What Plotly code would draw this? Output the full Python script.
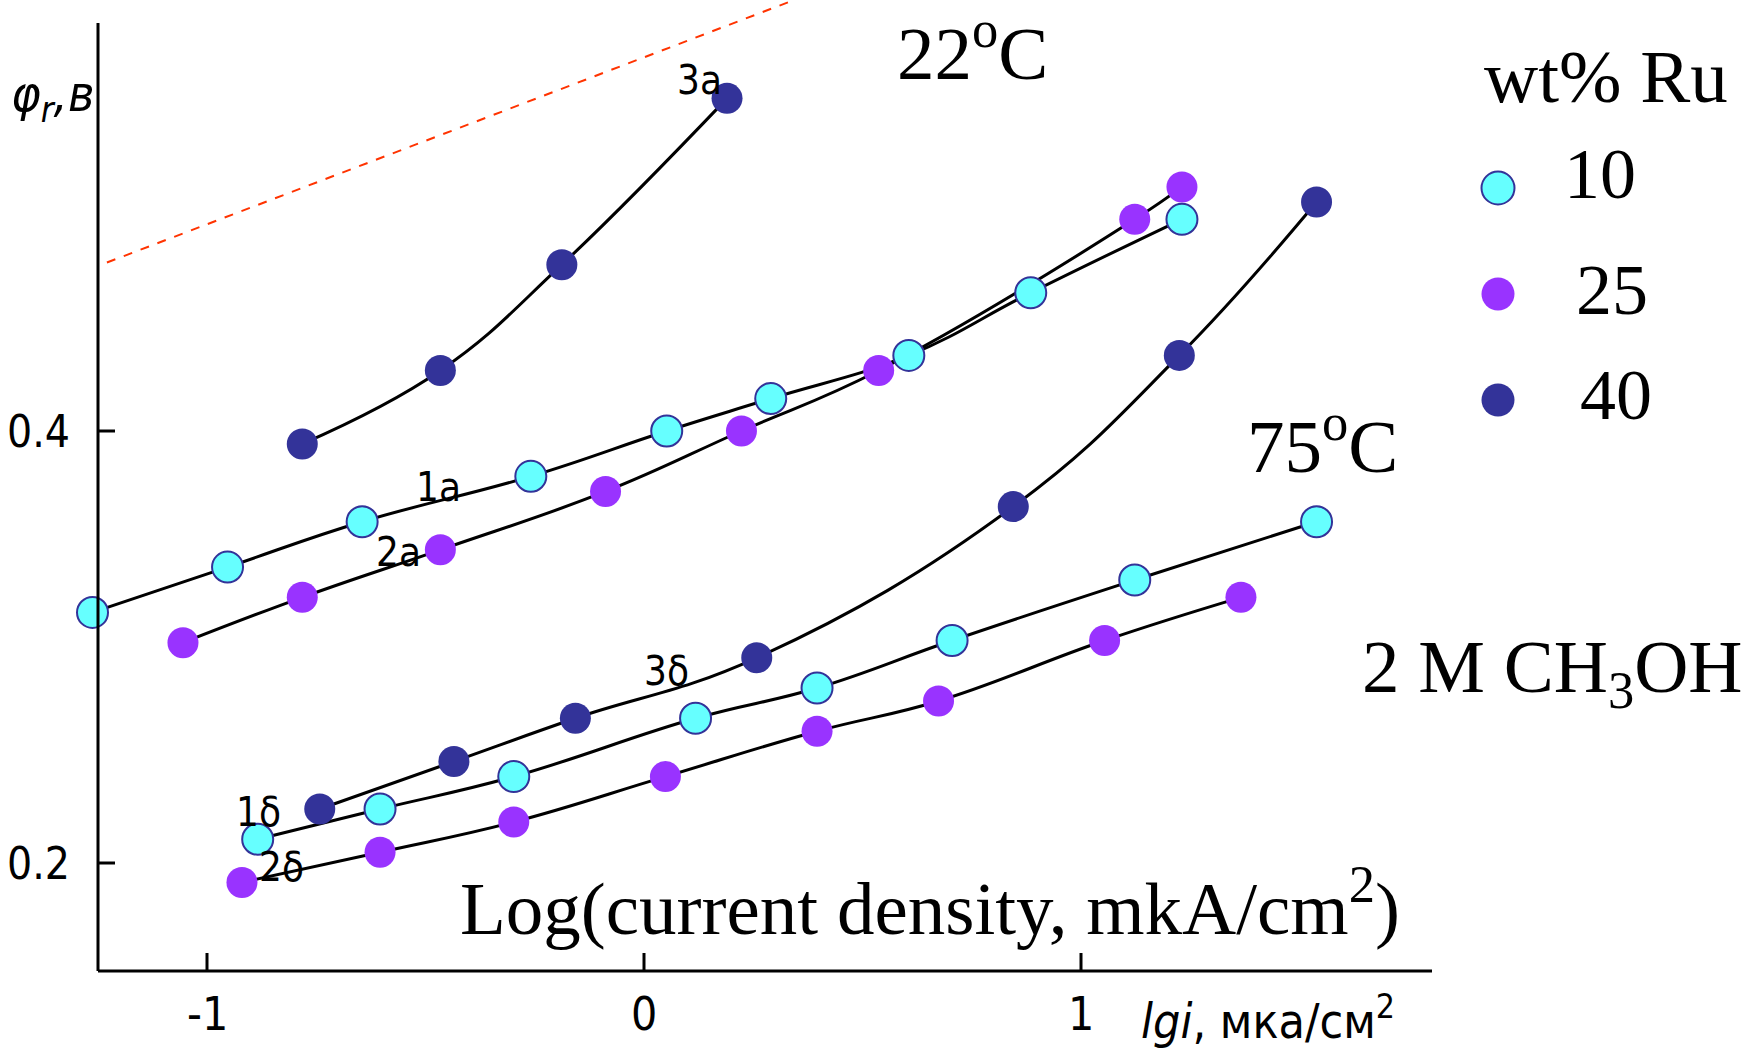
import plotly.graph_objects as go

# ---------------- data ----------------
# 22 oC curves (a)
x_10a = [-1.262, -0.953, -0.645, -0.259, 0.052, 0.290, 0.606, 0.885, 1.231]
y_10a = [0.316, 0.337, 0.358, 0.379, 0.400, 0.415, 0.435, 0.464, 0.498]
x_25a = [-1.055, -0.782, -0.466, -0.088, 0.223, 0.537, 1.123, 1.231]
y_25a = [0.302, 0.323, 0.345, 0.372, 0.400, 0.428, 0.498, 0.513]
x_40a = [-0.782, -0.466, -0.188, 0.190]
y_40a = [0.394, 0.428, 0.477, 0.554]
# 75 oC curves (δ)
x_10b = [-0.884, -0.604, -0.298, 0.118, 0.396, 0.705, 1.123, 1.539]
y_10b = [0.211, 0.225, 0.240, 0.267, 0.281, 0.303, 0.331, 0.358]
x_25b = [-0.920, -0.604, -0.298, 0.049, 0.396, 0.674, 1.054, 1.366]
y_25b = [0.191, 0.205, 0.219, 0.240, 0.261, 0.275, 0.303, 0.323]
x_40b = [-0.742, -0.435, -0.157, 0.258, 0.845, 1.225, 1.539]
y_40b = [0.225, 0.247, 0.267, 0.295, 0.365, 0.435, 0.506]
# red dashed reference line
x_red = [-1.229, 0.343]
y_red = [0.478, 0.5995]

x_ticks = [-1, 0, 1]
x_tick_labels = ["-1", "0", "1"]
y_ticks = [0.2, 0.4]
y_tick_labels = ["0.2", "0.4"]
legend_labels = ["10", "25", "40"]

# ---------------- layout geometry ----------------
W, H = 1748, 1060
PX0, PXU = 644.0, 437.0      # pixel of x=0, pixels per unit x
PY0, PYU = 431.0, 2160.0     # pixel of y=0.4, pixels per unit y


def X(px):
    return (px - PX0) / PXU


def Y(py):
    return 0.4 - (py - PY0) / PYU


CYAN, PURPLE, NAVY = "#66FFFF", "#9933FF", "#333399"
MS = 31
SERIF = "Liberation Serif, Times New Roman, serif"
HAND = "DejaVu Sans Condensed, Liberation Sans Narrow, DejaVu Sans, sans-serif"

fig = go.Figure()

# red dashed line
fig.add_trace(go.Scatter(x=x_red, y=y_red, mode="lines",
                         line=dict(color="#FF3300", width=2, dash="dash"),
                         showlegend=False, hoverinfo="skip"))

# black curves
for xs, ys in [(x_10a, y_10a), (x_25a, y_25a), (x_40a, y_40a),
               (x_10b, y_10b), (x_25b, y_25b), (x_40b, y_40b)]:
    fig.add_trace(go.Scatter(x=xs, y=ys, mode="lines",
                             line=dict(color="black", width=3, shape="spline", smoothing=1.2),
                             showlegend=False, hoverinfo="skip"))

# markers
styles = {
    "10": dict(color=CYAN, size=MS, line=dict(color=NAVY, width=2)),
    "25": dict(color=PURPLE, size=MS, line=dict(width=0)),
    "40": dict(color=NAVY, size=MS, line=dict(width=0)),
}
for name, xs, ys in [("25", x_25a, y_25a), ("10", x_10a, y_10a), ("40", x_40a, y_40a),
                     ("25", x_25b, y_25b), ("10", x_10b, y_10b), ("40", x_40b, y_40b)]:
    fig.add_trace(go.Scatter(x=xs, y=ys, mode="markers", marker=styles[name],
                             cliponaxis=False, showlegend=False, name=name))

# manual legend
leg_y = [188, 294, 400]
fig.add_trace(go.Scatter(x=[X(1498)] * 3, y=[Y(v) for v in leg_y], mode="markers",
                         marker=dict(color=[CYAN, PURPLE, NAVY], size=33,
                                     line=dict(color=[NAVY, PURPLE, NAVY], width=[2, 0, 0])),
                         showlegend=False, hoverinfo="skip", cliponaxis=False))

shapes = []
# axes lines
ax_l, ax_b, ax_t, ax_r = X(98), Y(971), Y(23), X(1432)
shapes.append(dict(type="line", x0=ax_l, x1=ax_l, y0=ax_b, y1=ax_t, line=dict(color="black", width=3)))
shapes.append(dict(type="line", x0=ax_l, x1=ax_r, y0=ax_b, y1=ax_b, line=dict(color="black", width=3)))
for t in x_ticks:
    shapes.append(dict(type="line", x0=t, x1=t, y0=ax_b, y1=ax_b + 18 / PYU, line=dict(color="black", width=3)))
for t in y_ticks:
    shapes.append(dict(type="line", x0=ax_l, x1=ax_l + 17 / PXU, y0=t, y1=t, line=dict(color="black", width=3)))

ann = []
for t, lab in zip(x_ticks, x_tick_labels):
    ann.append(dict(x=t, y=Y(1014), text=lab, showarrow=False, xanchor="center", yanchor="middle",
                    font=dict(family=HAND, size=46, color="black")))
for t, lab in zip(y_ticks, y_tick_labels):
    ann.append(dict(x=X(72), y=t, text=lab, showarrow=False, xanchor="right", yanchor="middle",
                    font=dict(family=HAND, size=44, color="black")))


def txt(px, py, s, size, family=SERIF, xanchor="center"):
    ann.append(dict(x=X(px), y=Y(py), text=s, showarrow=False, xanchor=xanchor, yanchor="middle",
                    font=dict(family=family, size=size, color="black")))


txt(972, 47, "22<sup>o</sup>C", 75)
txt(1322, 440, "75<sup>o</sup>C", 75)
txt(1552, 672, "2 M CH<sub>3</sub>OH", 75)
txt(930, 902, "Log(current density, mkA/cm<sup>2</sup>)", 75)
txt(1606, 76, "wt% Ru", 75)
txt(1600, 174, legend_labels[0], 72)
txt(1612, 290, legend_labels[1], 72)
txt(1616, 395, legend_labels[2], 72)
txt(1268, 1018, "<i>lgi</i>, мка/см<sup>2</sup>", 48, HAND)
txt(52, 97, "<i>φ<sub>r</sub>,в</i>", 50, HAND)

# curve labels
for px, py, s in [(699, 80, "3a"), (438, 487, "1a"), (398, 552, "2a"),
                  (666, 671, "3δ"), (258, 812, "1δ"), (281, 867, "2δ")]:
    txt(px, py, s, 40, HAND)

fig.update_layout(
    width=W, height=H,
    margin=dict(l=0, r=0, t=0, b=0),
    paper_bgcolor="white", plot_bgcolor="white",
    xaxis=dict(range=[X(0), X(W)], visible=False, fixedrange=True),
    yaxis=dict(range=[Y(H), Y(0)], visible=False, fixedrange=True),
    shapes=shapes, annotations=ann, showlegend=False,
)

fig.write_html("out.html")
